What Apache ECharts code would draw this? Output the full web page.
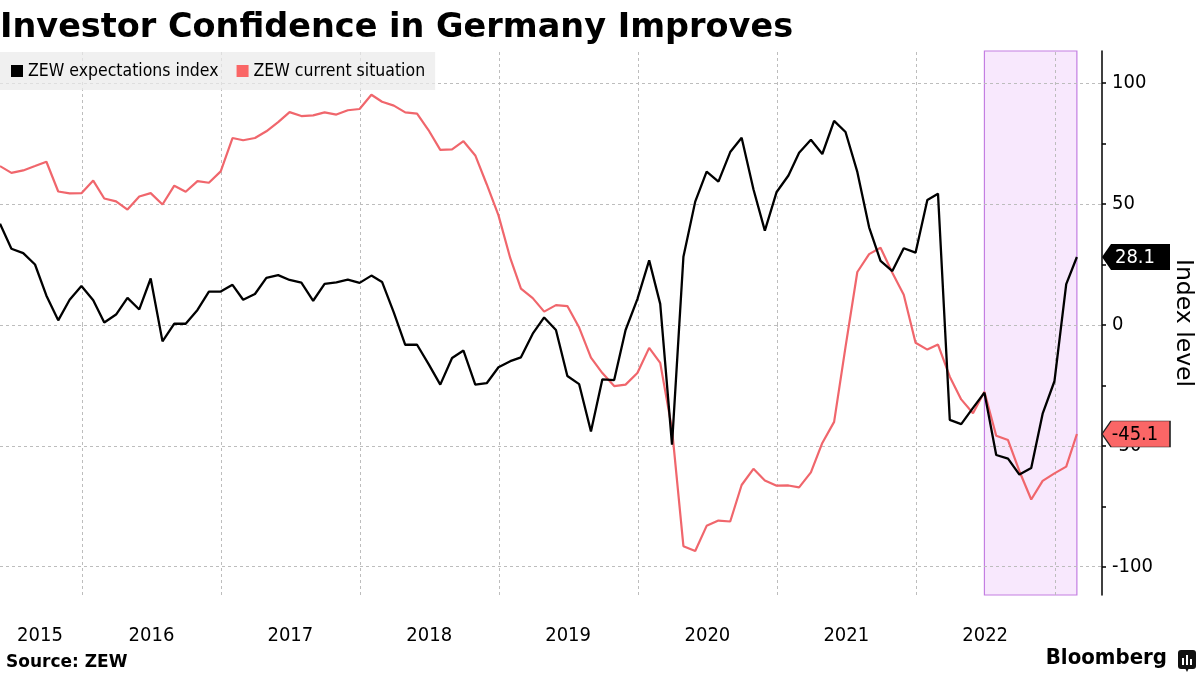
<!DOCTYPE html>
<html>
<head>
<meta charset="utf-8">
<script src="https://cdn.jsdelivr.net/npm/echarts@6/dist/echarts.min.js"></script>
<style>
html,body{margin:0;padding:0;background:#fff;}
#chart{width:1200px;height:675px;}
</style>
</head>
<body>
<div id="chart"></div>
<script>
// ---------- DATA ----------
const months = [
  '2015-05','2015-06','2015-07','2015-08','2015-09','2015-10','2015-11','2015-12',
  '2016-01','2016-02','2016-03','2016-04','2016-05','2016-06','2016-07','2016-08','2016-09','2016-10','2016-11','2016-12',
  '2017-01','2017-02','2017-03','2017-04','2017-05','2017-06','2017-07','2017-08','2017-09','2017-10','2017-11','2017-12',
  '2018-01','2018-02','2018-03','2018-04','2018-05','2018-06','2018-07','2018-08','2018-09','2018-10','2018-11','2018-12',
  '2019-01','2019-02','2019-03','2019-04','2019-05','2019-06','2019-07','2019-08','2019-09','2019-10','2019-11','2019-12',
  '2020-01','2020-02','2020-03','2020-04','2020-05','2020-06','2020-07','2020-08','2020-09','2020-10','2020-11','2020-12',
  '2021-01','2021-02','2021-03','2021-04','2021-05','2021-06','2021-07','2021-08','2021-09','2021-10','2021-11','2021-12',
  '2022-01','2022-02','2022-03','2022-04','2022-05','2022-06','2022-07','2022-08','2022-09','2022-10','2022-11','2022-12',
  '2023-01','2023-02'
];
const expectations = [
  41.9, 31.5, 29.7, 25.0, 12.1, 1.9, 10.4, 16.1,
  10.2, 1.0, 4.3, 11.2, 6.4, 19.2, -6.8, 0.5, 0.5, 6.2, 13.8, 13.8,
  16.6, 10.4, 12.8, 19.5, 20.6, 18.6, 17.5, 10.0, 17.0, 17.6, 18.7, 17.4,
  20.4, 17.8, 5.1, -8.2, -8.2, -16.1, -24.7, -13.7, -10.6, -24.7, -24.1, -17.5,
  -15.0, -13.4, -3.6, 3.1, -2.1, -21.1, -24.5, -44.1, -22.5, -22.8, -2.1, 10.7,
  26.7, 8.7, -49.5, 28.2, 51.0, 63.4, 59.3, 71.5, 77.4, 56.1, 39.0, 55.0,
  61.8, 71.2, 76.6, 70.7, 84.4, 79.8, 63.3, 40.4, 26.5, 22.3, 31.7, 29.9,
  51.7, 54.3, -39.3, -41.0, -34.3, -28.0, -53.8, -55.3, -61.9, -59.2, -36.7, -23.3,
  16.9, 28.1
];
const currentSituation = [
  65.7, 62.9, 63.9, 65.7, 67.5, 55.2, 54.4, 54.5,
  59.7, 52.3, 51.1, 47.7, 53.1, 54.5, 49.8, 57.6, 55.1, 59.5, 58.8, 63.5,
  77.3, 76.4, 77.3, 80.1, 83.9, 88.0, 86.4, 86.7, 87.9, 87.0, 88.8, 89.3,
  95.2, 92.3, 90.7, 87.9, 87.4, 80.6, 72.4, 72.6, 76.0, 70.1, 58.2, 45.3,
  27.6, 15.0, 11.1, 5.5, 8.2, 7.8, -1.1, -13.5, -19.9, -25.3, -24.7, -19.9,
  -9.5, -15.7, -43.1, -91.5, -93.5, -83.1, -80.9, -81.3, -66.2, -59.5, -64.3, -66.5,
  -66.4, -67.2, -61.0, -48.8, -40.1, -9.1, 21.9, 29.3, 31.9, 21.6, 12.5, -7.4,
  -10.2, -8.1, -21.4, -30.8, -36.5, -27.6, -45.8, -47.6, -60.5, -72.2, -64.5, -61.4,
  -58.6, -45.1
];
const seriesNames = ['ZEW expectations index', 'ZEW current situation'];
const yearLabels = ['2015','2016','2017','2018','2019','2020','2021','2022'];
const yearLabelDates = ['2015-09-13','2016-07-02','2017-07-02','2018-07-02','2019-07-02','2020-07-02','2021-07-02','2022-07-02'];
const yearStarts = ['2016-01-01','2017-01-01','2018-01-01','2019-01-01','2020-01-01','2021-01-01','2022-01-01','2023-01-01'];
const yTickValues = [-100, -75, -50, -25, 0, 25, 50, 75, 100];
const yLabelValues = [-100, -50, 0, 50, 100];
const highlightMonths = ['2022-06', '2023-02'];
const axisRange = { xMin: '2015-05-31', xMax: '2023-05-05', yMin: -111.7, yMax: 113.3 };

// ---------- HELPERS ----------
const FONT = "'DejaVu Sans Condensed', 'Liberation Sans', sans-serif";
const FONT_WIDE = "'DejaVu Sans', 'Liberation Sans', sans-serif";
function monthEnd(m) { const [y, mo] = m.split('-').map(Number); return Date.UTC(y, mo, 0); }
function day(d) { const [y, mo, da] = d.split('-').map(Number); return Date.UTC(y, mo - 1, da); }
const xs = months.map(monthEnd);
const expData = xs.map((t, i) => [t, expectations[i]]);
const curData = xs.map((t, i) => [t, currentSituation[i]]);
const xMax = day(axisRange.xMax);
const lastExp = expectations[expectations.length - 1];
const lastCur = currentSituation[currentSituation.length - 1];
const labelTs = yearLabelDates.map(day);

const BLACK = '#000000';
const PINK = '#f0666c';
const PINK_BADGE = '#fa6666';
const GRID = '#bdbdbd';

const badgePath = 'path://M0,13 L9,0 L68,0 L68,26 L9,26 Z';

const chart = echarts.init(document.getElementById('chart'), null, { renderer: 'canvas' });
chart.setOption({
  animation: false,
  backgroundColor: '#ffffff',
  textStyle: { fontFamily: FONT },
  title: {
    text: 'Investor Confidence in Germany Improves',
    left: 0, top: 11, padding: 0,
    textStyle: { fontFamily: FONT_WIDE, fontSize: 33.5, fontWeight: 'bold', color: '#000' }
  },
  legend: {
    data: seriesNames,
    left: 0, top: 52,
    padding: [10, 10, 10, 11],
    backgroundColor: 'rgba(234,234,234,0.72)',
    icon: 'rect', itemWidth: 12, itemHeight: 12, itemGap: 18,
    textStyle: { fontFamily: FONT, fontSize: 17.5, color: '#000' },
    selectedMode: false
  },
  grid: { left: 0, right: 98, top: 51, bottom: 80, containLabel: false, outerBoundsMode: 'none' },
  xAxis: {
    type: 'value',
    min: day(axisRange.xMin), max: xMax,
    axisLine: { show: false },
    axisTick: { show: true, customValues: yearStarts.map(day), length: 4, lineStyle: { color: GRID, type: [2, 2] } },
    splitLine: { show: false },
    axisLabel: {
      customValues: labelTs,
      margin: 31,
      fontFamily: FONT, fontSize: 20, color: '#000',
      formatter: (v) => { const i = labelTs.indexOf(v); return i >= 0 ? yearLabels[i] : ''; }
    }
  },
  yAxis: {
    type: 'value', position: 'right',
    min: axisRange.yMin, max: axisRange.yMax,
    name: 'Index level', nameLocation: 'middle', nameRotate: -90, nameGap: 69,
    nameTextStyle: { fontFamily: FONT_WIDE, fontSize: 23.5, color: '#000' },
    axisLine: { show: true, lineStyle: { color: '#000', width: 1.5 } },
    axisTick: { show: true, inside: false, length: 4, customValues: yTickValues, lineStyle: { color: '#000', width: 1.5 } },
    splitLine: { show: false },
    axisLabel: { customValues: yLabelValues, margin: 10, fontFamily: FONT, fontSize: 20, color: '#000' }
  },
  series: [
    {
      name: 'backdrop', type: 'line', data: [], z: 1, silent: true,
      markArea: {
        z: 1, silent: true,
        itemStyle: { color: '#f8e8fd', borderColor: '#c47ee2', borderWidth: 1.2 },
        data: [[{ xAxis: monthEnd(highlightMonths[0]) }, { xAxis: monthEnd(highlightMonths[1]) }]]
      },
      markLine: {
        z: 1.5, silent: true, symbol: ['none', 'none'], label: { show: false },
        lineStyle: { color: GRID, type: [3, 3], width: 1 },
        data: yLabelValues.map(v => ({ yAxis: v })).concat(yearStarts.map(d => ({ xAxis: day(d) })))
      }
    },
    {
      name: seriesNames[1], type: 'line', data: curData, z: 3,
      showSymbol: false, symbol: 'none',
      lineStyle: { color: PINK, width: 2.2 }, itemStyle: { color: PINK_BADGE },
      markPoint: {
        z: 10, silent: true,
        symbol: badgePath, symbolSize: [68, 26], symbolOffset: [34, 0],
        itemStyle: { color: PINK_BADGE, borderColor: '#222', borderWidth: 1 },
        label: { show: true, position: 'inside', offset: [-1, 1], color: '#000', fontFamily: FONT, fontSize: 20, formatter: () => lastCur.toFixed(1) },
        data: [{ coord: [xMax, lastCur] }]
      }
    },
    {
      name: seriesNames[0], type: 'line', data: expData, z: 4,
      showSymbol: false, symbol: 'none',
      lineStyle: { color: BLACK, width: 2.3 }, itemStyle: { color: BLACK },
      markPoint: {
        z: 10, silent: true,
        symbol: badgePath, symbolSize: [68, 26], symbolOffset: [34, 0],
        itemStyle: { color: '#000' },
        label: { show: true, position: 'inside', offset: [-1, 1], color: '#fff', fontFamily: FONT, fontSize: 20, formatter: () => lastExp.toFixed(1) },
        data: [{ coord: [xMax, lastExp] }]
      }
    }
  ],
  graphic: [
    { type: 'text', left: 6, top: 654, style: { text: 'Source: ZEW', fontFamily: FONT_WIDE, fontSize: 17, fontWeight: 'bold', fill: '#000' } },
    { type: 'text', right: 33, top: 647, style: { text: 'Bloomberg', fontFamily: FONT, fontSize: 22, fontWeight: 'bold', fill: '#000' } },
    { type: 'group', left: 1178, top: 650, children: [
      { type: 'rect', shape: { x: 0, y: 0, width: 18, height: 19, r: 3 }, style: { fill: '#111' } },
      { type: 'polygon', shape: { points: [[7, 18], [11, 18], [9, 22]] }, style: { fill: '#111' } },
      { type: 'rect', shape: { x: 4, y: 8, width: 2, height: 7 }, style: { fill: '#fff' } },
      { type: 'rect', shape: { x: 8, y: 5, width: 2, height: 10 }, style: { fill: '#fff' } },
      { type: 'rect', shape: { x: 12, y: 9, width: 2, height: 6 }, style: { fill: '#fff' } }
    ]}
  ]
});
</script>
</body>
</html>
